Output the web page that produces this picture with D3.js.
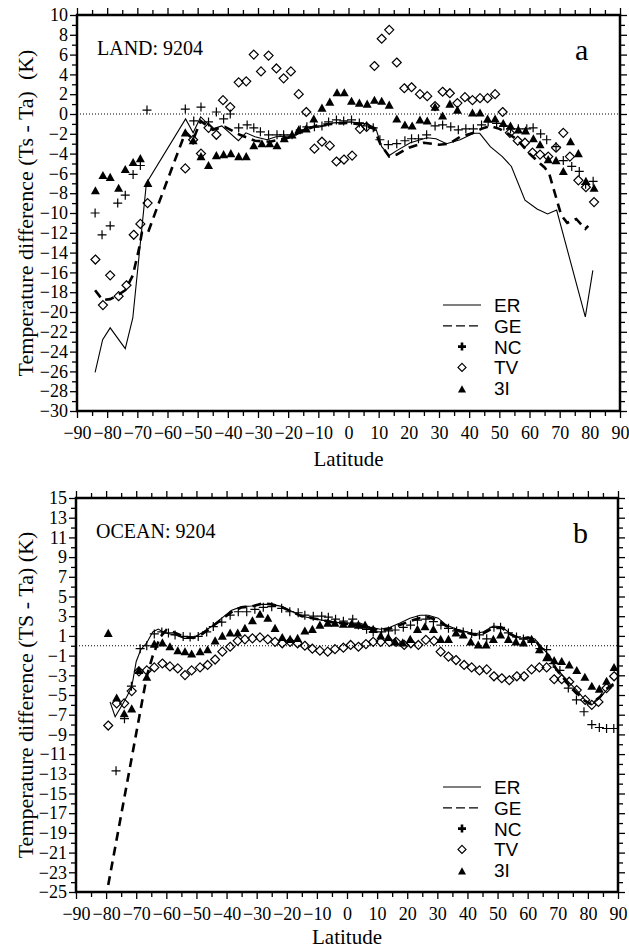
<!DOCTYPE html>
<html>
<head>
<meta charset="utf-8">
<script src="https://cdn.jsdelivr.net/npm/d3@7"></script>
<style>
  body { margin: 0; background: #fff; }
  svg { display: block; }
</style>
</head>
<body>
<div id="chart"></div>
<script>
// Latitude ticks (shared by both panels)
const latTicks = [-90, -80, -70, -60, -50, -40, -30, -20, -10, 0, 10, 20, 30, 40, 50, 60, 70, 80, 90];
const landYTicks = [10, 8, 6, 4, 2, 0, -2, -4, -6, -8, -10, -12, -14, -16, -18, -20, -22, -24, -26, -28, -30];
const oceanYTicks = [15, 13, 11, 9, 7, 5, 3, 1, -1, -3, -5, -7, -9, -11, -13, -15, -17, -19, -21, -23, -25];
const seriesNames = ["ER", "GE", "NC", "TV", "3I"];

// Panel a: LAND  [latitude, Ts - Ta]
const landER = [[-84,-26.1],[-81.5,-22.8],[-79,-21.6],[-74,-23.7],[-71.5,-20.6],[-67,-7.0],[-54,-0.5],[-51.5,-1.9],[-49,-0.3],[-45,-1.5],[-42,-1.2],[-36.5,-2.7],[-34,-1.9],[-31,-2.3],[-27,-2.6],[-24,-2.3],[-18,-2.2],[-14,-1.4],[-9.5,-1.3],[-5,-0.9],[0.5,-0.8],[6,-1.0],[9,-1.4],[11,-3.3],[13.5,-4.2],[16,-3.7],[20.5,-2.9],[26,-2.4],[29,-2.5],[32.5,-3.0],[37,-2.6],[41.5,-1.95],[43.5,-1.95],[47,-3.3],[51,-4.3],[54,-5.3],[58.5,-8.7],[62.5,-9.6],[66,-10.1],[69,-9.7],[78.5,-20.5],[81,-15.8]];
const landGE = [[-84,-17.8],[-81.5,-18.8],[-79,-18.7],[-76.5,-18.3],[-74,-17.8],[-71.5,-16.3],[-69.5,-13.7],[-68.5,-12.0],[-66.5,-12.0],[-63.5,-9.5],[-54,-1.8],[-51.5,-2.6],[-49,-0.7],[-45,-1.6],[-41,-1.3],[-36,-2.1],[-31,-2.7],[-26,-2.8],[-20,-2.4],[-15,-1.7],[-10,-1.1],[-5,-1.0],[0,-0.9],[5,-1.1],[8.5,-1.5],[10.5,-3.0],[13.5,-4.3],[16,-4.1],[20,-3.4],[25,-2.9],[30,-3.1],[33.5,-3.0],[37,-2.3],[41.5,-1.9],[44,-1.5],[47,-1.2],[50,-1.5],[53,-2.0],[56,-2.6],[60,-4.0],[63.5,-5.0],[65,-5.4],[66.5,-6.0],[70.5,-10.2],[72.5,-11.0],[75.5,-10.6],[78.5,-11.6],[79.5,-11.3]];
const landNC = [[-84,-10.0],[-81.7,-12.2],[-79,-11.3],[-76.5,-9.0],[-74,-8.2],[-71.4,-6.1],[-69,-5.2],[-66.8,0.4],[-54.1,0.5],[-51.3,-0.7],[-48.9,0.7],[-46.4,-0.8],[-43.8,0.2],[-41.4,-0.5],[-39.2,0.0],[-36.4,-1.4],[-33.6,-1.1],[-31.4,-1.4],[-29.2,-1.8],[-26.5,-2.1],[-23.7,-2.1],[-21.5,-2.1],[-18.7,-2.1],[-16,-1.6],[-13.8,-1.3],[-11.3,-1.3],[-8.8,-1.2],[-6.6,-0.8],[-4,-0.6],[-1.6,-0.7],[1,-0.6],[3.6,-0.9],[6,-1.2],[8.2,-1.4],[10.4,-2.6],[13.2,-3.1],[16,-3.0],[18.7,-2.7],[20.9,-2.5],[23.2,-2.5],[25.9,-2.1],[28.7,-1.2],[31.2,-1.1],[33.9,-1.3],[36.4,-1.6],[38.9,-1.5],[41.4,-1.5],[44.1,-1.1],[46.3,-0.8],[49.1,-0.95],[51.5,-1.2],[53.7,-1.5],[56.3,-1.5],[59.1,-1.5],[61.2,-1.4],[63.7,-2.0],[65.7,-2.6],[68.8,-3.3],[71.2,-4.7],[74,-5.3],[76.5,-5.8],[78.6,-7.1],[81.1,-6.8]];
const landTV = [[-83.9,-14.7],[-81.4,-19.3],[-79,-16.3],[-76.2,-18.4],[-73.6,-17.3],[-71.2,-12.2],[-69,-11.1],[-66.6,-9.0],[-54.1,-5.5],[-51.5,-2.6],[-48.9,-4.0],[-46.4,-1.4],[-43.8,-2.1],[-41.6,1.4],[-39.2,0.7],[-36.4,3.2],[-33.9,3.3],[-31.4,6.0],[-29,4.3],[-26.5,5.9],[-23.9,4.6],[-21.5,3.6],[-19.1,4.3],[-16.5,2.0],[-14,0.2],[-11.3,-3.5],[-8.8,-2.8],[-6.2,-3.2],[-4,-4.8],[-1.5,-4.6],[1.2,-4.2],[3.8,-1.5],[6,-1.3],[8.6,4.85],[11,7.6],[13.5,8.5],[16,5.2],[18.5,2.6],[20.9,2.7],[23.7,2.0],[26.1,1.8],[28.7,0.8],[31.2,2.25],[33.6,2.1],[36.1,1.1],[38.6,1.7],[41.1,1.4],[43.6,1.6],[46.1,1.6],[48.6,2.0],[51.1,0.2],[53.5,-1.9],[56.1,-2.7],[58.5,-2.9],[61,-3.9],[63.5,-4.1],[66.2,-4.3],[68.8,-3.4],[71.2,-1.9],[73.4,-4.3],[76.2,-6.7],[78.7,-7.4],[81.4,-8.9]];
const land3I = [[-83.9,-7.75],[-81.4,-6.2],[-79,-6.4],[-76.2,-7.5],[-74,-5.6],[-71.4,-4.9],[-69,-4.5],[-66.5,-7.0],[-54.1,-1.9],[-51.5,-2.7],[-48.9,-4.3],[-46.4,-5.2],[-43.8,-4.2],[-41.4,-4.1],[-39,-4.0],[-36.4,-4.3],[-33.9,-4.3],[-31.4,-3.2],[-28.7,-3.0],[-26.1,-3.0],[-23.7,-3.2],[-21.3,-2.5],[-18.7,-2.1],[-16.5,-1.6],[-14,-1.5],[-11.5,-0.5],[-8.8,0.6],[-6.2,1.2],[-3.8,2.15],[-1.4,2.15],[1,1.3],[3.6,1.1],[6.2,1.0],[8.6,1.4],[11,1.3],[13.5,0.9],[16,-0.5],[18.7,-1.1],[21.1,-1.2],[23.7,-0.6],[26.1,-0.7],[28.7,0.7],[31.2,-0.2],[33.6,1.0],[36.1,0.4],[41.1,0.1],[43.6,0.1],[46.1,-0.5],[48.6,-0.5],[51.3,-0.95],[53.7,-1.2],[56.3,-1.6],[58.7,-1.7],[61.3,-2.5],[63.5,-3.1],[66.2,-4.6],[68.8,-4.7],[71.2,-5.8],[73.6,-2.8],[76.2,-4.0],[78.7,-6.8],[81.4,-7.5]];

// Panel b: OCEAN  [latitude, TS - Ta]
const oceanER = [[-78.7,-5.7],[-77,-7.2],[-73.7,-5.5],[-71.5,-4.2],[-70,-1.6],[-68.5,-0.4],[-66.5,0.3],[-64.5,1.4],[-62.7,1.7],[-60.4,1.3],[-57,1.1],[-54,0.75],[-51.5,0.75],[-48.3,1.3],[-45,1.95],[-41.6,2.8],[-38.3,3.6],[-35,3.97],[-31.7,4.04],[-28.3,4.2],[-25,4.2],[-21.7,4.0],[-18.4,3.5],[-15,3.0],[-11.7,2.8],[-8.4,2.6],[-5,2.45],[-1.8,2.3],[1,2.3],[4.3,2.3],[7.6,1.9],[11,1.67],[14.3,1.87],[17.6,2.3],[20.9,2.8],[24.3,3.1],[27,3.1],[30.3,2.8],[33,2.1],[36.4,1.67],[39.7,1.43],[42.5,1.2],[45.3,1.43],[48.6,2.0],[51.4,1.93],[54,1.3],[57.5,0.75],[60.2,0.9],[62.4,0.7],[64,0.08],[67,-0.94],[69.6,-2.3],[73,-3.5],[76.3,-4.5],[79,-5.5],[81.3,-6.0],[84,-5.3],[86.2,-4.5],[88.5,-4.1]];
const oceanGE = [[-79.3,-24.3],[-66.5,-3.1],[-64.5,-1.0],[-62,0.9],[-60,1.6],[-57,1.3],[-54,0.9],[-51,0.8],[-48,1.2],[-45,1.9],[-41.5,2.7],[-38,3.5],[-35,3.9],[-31.5,4.0],[-28,4.3],[-25,4.2],[-21.5,3.9],[-18,3.4],[-15,3.0],[-11.5,2.8],[-8,2.6],[-5,2.4],[-2,2.3],[1,2.2],[4,2.1],[7.5,1.8],[11,1.6],[14,1.7],[17.5,2.1],[21,2.5],[24,2.8],[27,2.9],[30,2.6],[33,2.0],[36.5,1.6],[40,1.3],[42.5,1.1],[45.5,1.3],[48.5,1.8],[51.5,1.8],[54,1.2],[57.5,0.7],[60,0.8],[62.5,0.6],[64,-0.1],[67,-1.0],[69.5,-2.4],[73,-3.7],[76,-4.7],[79,-5.6],[81,-5.9],[84,-5.2],[86,-4.4],[88.5,-3.9]];
const oceanNC = [[-76.7,-12.7],[-73.9,-7.4],[-71.6,-4.1],[-68.7,-0.3],[-66.5,0.0],[-64,1.2],[-61.5,1.4],[-59.3,1.3],[-57.1,1.1],[-54.4,0.95],[-52.1,0.9],[-49.4,0.95],[-46.6,1.4],[-44.4,1.95],[-41.6,2.4],[-38.8,3.1],[-36.1,3.45],[-33.3,3.45],[-30.6,3.7],[-27.8,3.9],[-25,3.97],[-21.7,3.8],[-19,3.45],[-16.2,3.35],[-14,3.1],[-11.2,3.0],[-8.4,3.0],[-6.2,2.9],[-3.8,2.7],[-1.2,2.5],[1.9,2.7],[3.8,2.1],[6.5,1.67],[8.7,1.4],[11.5,1.4],[13.8,1.5],[16,1.6],[18.7,1.87],[21.1,2.1],[23.4,2.6],[26.2,2.7],[28.7,2.45],[31.2,2.1],[33.7,1.77],[36.4,1.5],[38.6,1.4],[41.4,1.25],[44,1.1],[46.4,0.7],[48.8,1.87],[51,1.87],[53.6,1.3],[56.3,0.9],[58.6,0.68],[61.3,0.5],[64.1,-0.3],[66.3,-0.4],[68.5,-1.8],[70.7,-2.5],[73.5,-4.3],[76.2,-5.5],[78.7,-6.7],[81.3,-8.0],[83.8,-8.3],[86.2,-8.4],[88.6,-8.4]];
const oceanTV = [[-79.3,-8.1],[-76.5,-5.85],[-74,-5.85],[-71.5,-4.6],[-69.1,-2.6],[-66.5,-2.5],[-64,-2.2],[-61.3,-1.8],[-58.8,-2.1],[-56.2,-2.3],[-53.8,-2.98],[-51.6,-2.5],[-48.8,-2.2],[-46.3,-1.95],[-43.8,-1.4],[-41.4,-0.6],[-38.8,-0.1],[-36.3,0.5],[-33.9,0.65],[-31.4,0.75],[-28.9,0.85],[-26.3,0.65],[-23.9,0.4],[-21.5,0.25],[-18.9,0.4],[-16.4,0.25],[-14,0.0],[-11.5,-0.3],[-9,-0.5],[-6.4,-0.6],[-4,-0.35],[-1.2,-0.2],[1.2,0.08],[3.8,-0.1],[6.3,0.17],[8.7,0.4],[11.2,0.4],[14.1,0.4],[16.3,0.4],[19,0.08],[21.2,0.25],[23.7,0.08],[26.2,0.6],[28.9,0.5],[31.1,-0.6],[33.7,-1.1],[36.2,-1.45],[38.9,-1.95],[41.4,-2.2],[44,-2.5],[46.4,-2.4],[48.8,-3.1],[51.4,-3.3],[53.9,-3.5],[56.4,-3.1],[58.8,-3.1],[61.3,-2.4],[63.9,-2.2],[66.3,-2.2],[68.8,-3.4],[71.3,-3.4],[73.8,-3.65],[76.3,-4.5],[79.1,-5.5],[81.3,-6.0],[83.5,-5.7],[86.2,-4.3],[88.7,-3.1]];
const ocean3I = [[-79.3,1.26],[-76.5,-5.3],[-74,-6.9],[-71.5,-6.4],[-69.1,-2.5],[-66.5,-3.2],[-64,0.17],[-61.3,0.3],[-58.8,-0.1],[-56.2,-0.5],[-53.8,-0.6],[-51.6,-0.83],[-48.8,-0.6],[-46.3,-0.4],[-43.8,0.5],[-41.4,0.98],[-38.8,1.3],[-36.3,1.3],[-33.9,1.77],[-31.4,2.55],[-28.9,3.2],[-26.3,2.8],[-23.9,1.77],[-21.5,0.85],[-18.9,0.65],[-16.4,0.75],[-14,1.5],[-11.5,1.67],[-9,2.1],[-6.4,2.3],[-4,2.3],[-1.2,2.2],[1.5,2.2],[3.8,2.1],[6,2.1],[8.7,1.67],[11.2,1.0],[13.7,0.85],[16,0.4],[18.5,0.3],[21,0.65],[23.4,1.67],[25.9,1.93],[28.7,1.67],[31.1,0.65],[33.7,0.65],[36.2,1.3],[38.6,1.1],[41.1,0.4],[43.6,0.08],[46.2,0.08],[48.6,0.65],[51,1.1],[53.6,0.65],[56.1,0.4],[58.6,0.3],[61.3,0.65],[63.9,-0.4],[66.3,-1.2],[68.8,-1.5],[71.3,-1.6],[73.8,-1.95],[76.3,-2.5],[79,-3.2],[81.3,-4.1],[83.8,-4.4],[86.2,-3.6],[88.7,-2.2]];

const serif = "'Liberation Serif', 'Times New Roman', Times, serif";
const sans = "'Liberation Sans', Arial, Helvetica, sans-serif";

const svg = d3.select("#chart")
    .append("svg")
    .attr("width", 629)
    .attr("height", 950);

// marker shapes
const plusPath = r => `M${-r},0H${r}M0,${-r}V${r}`;
const diamondPath = r => `M0,${-r}L${r},0L0,${r}L${-r},0Z`;
const trianglePath = r => `M0,${-r}L${r},${r * 0.8}L${-r},${r * 0.8}Z`;

function drawPanel(p) {
    const x = d3.scaleLinear().domain([-90, 90]).range([p.left, p.right]);
    const y = d3.scaleLinear().domain([p.yTicks[p.yTicks.length - 1], p.yTicks[0]]).range([p.bottom, p.top]);
    const g = svg.append("g");

    const xMinor = latTicks.slice(0, -1).map(d => d + 5);
    const yMinor = p.yTicks.slice(0, -1).map(d => d - 1);

    // zero line
    g.append("line")
        .attr("x1", p.left).attr("x2", p.right)
        .attr("y1", y(0)).attr("y2", y(0))
        .attr("stroke", "#000")
        .attr("stroke-width", 1)
        .attr("stroke-dasharray", "1,2");

    // axes: labelled major ticks + unlabelled minor ticks, on all four sides
    const axes = [
        [d3.axisBottom(x).tickValues(latTicks).tickSize(7).tickPadding(8), `translate(0,${p.bottom})`],
        [d3.axisBottom(x).tickValues(xMinor).tickSize(5).tickFormat(""), `translate(0,${p.bottom})`],
        [d3.axisTop(x).tickValues(latTicks).tickSize(7).tickFormat(""), `translate(0,${p.top})`],
        [d3.axisTop(x).tickValues(xMinor).tickSize(5).tickFormat(""), `translate(0,${p.top})`],
        [d3.axisLeft(y).tickValues(p.yTicks).tickSize(7).tickPadding(2), `translate(${p.left},0)`],
        [d3.axisLeft(y).tickValues(yMinor).tickSize(5).tickFormat(""), `translate(${p.left},0)`],
        [d3.axisRight(y).tickValues(p.yTicks).tickSize(7).tickFormat(""), `translate(${p.right},0)`],
        [d3.axisRight(y).tickValues(yMinor).tickSize(5).tickFormat(""), `translate(${p.right},0)`]
    ];
    axes.forEach(([ax, tr]) => {
        const a = g.append("g").attr("transform", tr).call(ax)
            .attr("font-family", serif).attr("font-size", 18);
        a.select(".domain").remove();
        a.selectAll(".tick line").attr("stroke", "#000").attr("stroke-width", 1.3);
        a.selectAll(".tick text").attr("fill", "#000")
            .style("font-family", serif).style("font-size", "18px");
    });

    // frame
    g.append("rect")
        .attr("x", p.left).attr("y", p.top)
        .attr("width", p.right - p.left).attr("height", p.bottom - p.top)
        .attr("fill", "none")
        .attr("stroke", "#000")
        .attr("stroke-width", 2.5);

    // axis titles
    g.append("text")
        .attr("x", (p.left + p.right) / 2)
        .attr("y", p.xTitleY)
        .attr("text-anchor", "middle")
        .style("font-family", serif)
        .style("font-size", "21px")
        .text("Latitude");

    g.append("text")
        .attr("transform", `translate(33,${(p.top + p.bottom) / 2}) rotate(-90)`)
        .attr("text-anchor", "middle")
        .style("font-family", serif)
        .style("font-size", "22px")
        .style("white-space", "pre")
        .text(p.yTitle);

    // panel labels
    g.append("text")
        .attr("x", p.left + 20).attr("y", p.top + p.labelDy)
        .style("font-family", serif)
        .style("font-size", "20px")
        .text(p.label);
    g.append("text")
        .attr("x", p.right - 45).attr("y", p.top + p.labelDy + 5)
        .style("font-family", serif)
        .style("font-size", "30px")
        .text(p.letter);

    // lines
    const line = d3.line().x(d => x(d[0])).y(d => y(d[1]));
    g.append("path").datum(p.er).attr("d", line)
        .attr("fill", "none").attr("stroke", "#000").attr("stroke-width", 1.1);
    g.append("path").datum(p.ge).attr("d", line)
        .attr("fill", "none").attr("stroke", "#000").attr("stroke-width", 2.6)
        .attr("stroke-dasharray", "9,6");

    // markers
    g.selectAll(".nc").data(p.nc).join("path")
        .attr("transform", d => `translate(${x(d[0])},${y(d[1])})`)
        .attr("d", plusPath(4.5))
        .attr("stroke", "#000").attr("stroke-width", 1.2);
    g.selectAll(".tv").data(p.tv).join("path")
        .attr("transform", d => `translate(${x(d[0])},${y(d[1])})`)
        .attr("d", diamondPath(4.5))
        .attr("fill", "none").attr("stroke", "#000").attr("stroke-width", 1.2);
    g.selectAll(".tri").data(p.tri).join("path")
        .attr("transform", d => `translate(${x(d[0])},${y(d[1])})`)
        .attr("d", trianglePath(4.5))
        .attr("fill", "#000");

    // legend
    const legend = g.append("g");
    seriesNames.forEach((name, i) => {
        const cy = p.legendY + i * 20.8;
        const item = legend.append("g").attr("transform", `translate(0,${cy})`);
        if (i === 0 || i === 1) {
            item.append("line")
                .attr("x1", 443).attr("x2", 481)
                .attr("stroke", "#000")
                .attr("stroke-width", 1.2)
                .attr("stroke-dasharray", i === 1 ? "9,4" : null);
        } else if (i === 2) {
            item.append("path").attr("transform", "translate(462,0)")
                .attr("d", plusPath(4)).attr("stroke", "#000").attr("stroke-width", 2.6);
        } else if (i === 3) {
            item.append("path").attr("transform", "translate(462,0)")
                .attr("d", diamondPath(4)).attr("fill", "none").attr("stroke", "#000").attr("stroke-width", 1.2);
        } else {
            item.append("path").attr("transform", "translate(462,1)")
                .attr("d", trianglePath(4)).attr("fill", "#000");
        }
        item.append("text")
            .attr("x", 494)
            .attr("y", 7)
            .style("font-family", sans)
            .style("font-size", "19px")
            .text(name);
    });
}

drawPanel({
    left: 77, right: 620, top: 15, bottom: 411,
    yTicks: landYTicks,
    yTitle: "Temperature difference (Ts - Ta)  (K)",
    label: "LAND: 9204", letter: "a", labelDy: 40,
    xTitleY: 466,
    legendY: 305,
    er: landER, ge: landGE, nc: landNC, tv: landTV, tri: land3I
});

drawPanel({
    left: 76, right: 618, top: 498, bottom: 892,
    yTicks: oceanYTicks,
    yTitle: "Temperature difference (TS - Ta) (K)",
    label: "OCEAN: 9204", letter: "b", labelDy: 40,
    xTitleY: 944,
    legendY: 787,
    er: oceanER, ge: oceanGE, nc: oceanNC, tv: oceanTV, tri: ocean3I
});
</script>
</body>
</html>
